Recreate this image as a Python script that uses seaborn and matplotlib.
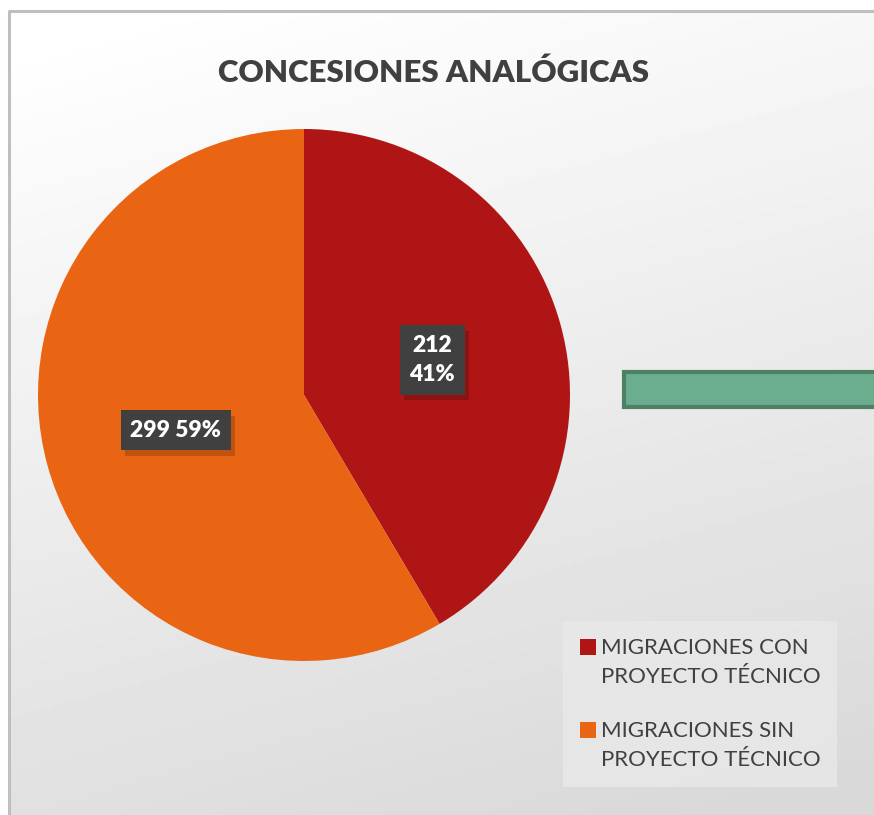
import matplotlib
matplotlib.use("Agg")
import matplotlib.pyplot as plt
import matplotlib.patheffects as pe
from matplotlib.patches import Rectangle
from matplotlib.legend_handler import HandlerPatch
import numpy as np
import seaborn as sns

sns.set_theme(style="white")
plt.rcParams['font.family'] = ['Lato', 'DejaVu Sans']

# datos
categorias = ['MIGRACIONES CON\nPROYECTO TÉCNICO', 'MIGRACIONES SIN\nPROYECTO TÉCNICO']
valores = [212, 299]
colores = ['#B01515', '#E96514']
titulo = 'CONCESIONES ANALÓGICAS'

W, H = 874, 815
fig = plt.figure(figsize=(W / 100, H / 100), dpi=100)

# fondo con degradado
bg = fig.add_axes([0, 0, 1, 1])
yy, xx = np.mgrid[0:1:200j, 0:1:200j]
grad = 1 - 0.15 * np.clip(0.85 * yy + 0.25 * xx - 0.05, 0, 1)
bg.imshow(grad, cmap='gray', vmin=0, vmax=1, extent=[0, W, H, 0], aspect='auto')
bg.set_xlim(0, W)
bg.set_ylim(H, 0)
bg.axis('off')
bg.add_patch(Rectangle((0, 0), W, 10, color='white', zorder=2))
bg.add_patch(Rectangle((0, 0), 8, H, color='white', zorder=2))
bg.plot([9, 9, W], [H, 11, 11], color='#bfbfbf', lw=2.2, zorder=3)

# rectángulo verde (recortado)
bg.add_patch(Rectangle((624, 372), 270, 35, facecolor='#6AAE8F', edgecolor='#4E8064', lw=3, zorder=3))

# título
fig.text(433 / W, 1 - 73 / H, titulo, ha='center', va='center', fontsize=22.5,
         fontweight='heavy', color='#404040')

# pastel
cx, cy, r = 304, 395, 266
ax = fig.add_axes([(cx - r) / W, (H - cy - r) / H, 2 * r / W, 2 * r / H])
wedges, _ = ax.pie(valores, colors=colores, startangle=90, counterclock=False,
                   radius=1, wedgeprops=dict(linewidth=0))
ax.set_xlim(-1, 1)
ax.set_ylim(-1, 1)
ax.set_aspect('equal')

total = sum(valores)
for i, (w, v) in enumerate(zip(wedges, valores)):
    ang = np.deg2rad((w.theta1 + w.theta2) / 2)
    x, y = 0.5 * np.cos(ang), 0.5 * np.sin(ang)
    pct = round(100 * v / total)
    txt = f'{v}\n{pct}%' if i == 0 else f'{v} {pct}%'
    t = ax.text(x, y, txt, ha='center', va='center', fontsize=16.5, fontweight='heavy',
                color='white', linespacing=1.5,
                bbox=dict(boxstyle='square,pad=0.42', fc='#404040', ec='none'))
    t.get_bbox_patch().set_path_effects([
        pe.SimplePatchShadow(offset=(3, -4), shadow_rgbFace='black', alpha=0.18),
        pe.Normal()])


# marcador de la leyenda alineado con la primera línea
def cuadro_arriba(legend, orig_handle, xdescent, ydescent, width, height, fontsize):
    return Rectangle((-xdescent, -ydescent + 11.5), width, height)


# leyenda
leg = fig.legend(wedges, categorias, loc='upper left',
                 bbox_to_anchor=(563 / W, 1 - 621 / H), frameon=True,
                 fontsize=16, handlelength=0.75, handleheight=0.75,
                 handletextpad=0.2, labelspacing=1.5, borderpad=0.75,
                 borderaxespad=0, fancybox=False,
                 handler_map={w: HandlerPatch(patch_func=cuadro_arriba) for w in wedges})
leg.get_frame().set_facecolor('#E9E9E9')
leg.get_frame().set_edgecolor('none')
for t in leg.get_texts():
    t.set_color('#404040')
    t.set_linespacing(1.6)

fig.savefig('out.png', dpi=100)
